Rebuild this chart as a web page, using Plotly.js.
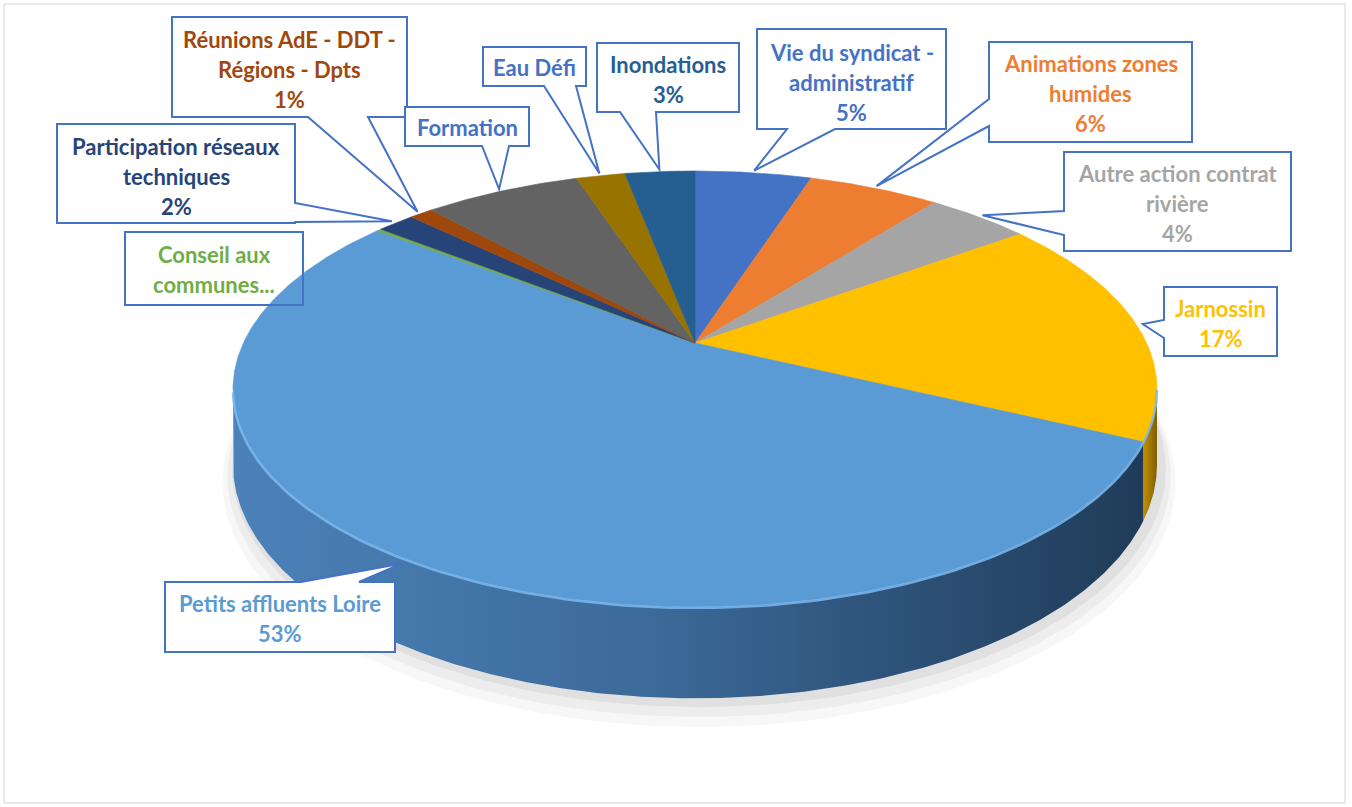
<!DOCTYPE html>
<html><head><meta charset="utf-8">
<script src="https://cdn.plot.ly/plotly-3.0.1.min.js"></script>
<style>html,body{margin:0;padding:0;background:#fff;}#chart{width:1352px;height:807px;}</style>
</head><body><div id="chart"></div>
<script>
// ---------- DATA ----------
const categories = ["Vie du syndicat - administratif","Animations zones humides","Autre action contrat rivière","Jarnossin","Petits affluents Loire","Conseil aux communes...","Participation réseaux techniques","Réunions AdE - DDT - Régions - Dpts","Formation","Eau Défi","Inondations"];
const values = [5.0, 5.6, 4.4, 17.1, 53.3, 0.2, 1.6, 1.0, 6.7, 2.1, 3.0];
const labelLines = [["Vie du syndicat -","administratif"],["Animations zones","humides"],["Autre action contrat","rivière"],["Jarnossin"],["Petits affluents Loire"],["Conseil aux","communes..."],["Participation réseaux","techniques"],["Réunions AdE - DDT -","Régions - Dpts"],["Formation"],["Eau Défi"],["Inondations"]];
const showPercent = [true,true,true,true,true,false,true,true,false,false,true];

// ---------- STYLES ----------
const sliceColors = ["#4472C4","#ED7D31","#A5A5A5","#FFC000","#5B9BD5","#70AD47","#264478","#9E480E","#636363","#997300","#255E91"];
const textColors  = ["#4472C4","#ED7D31","#A5A5A5","#FFC000","#5B9BD5","#70AD47","#264478","#9E480E","#4472C4","#4472C4","#255E91"];
const sideScales = [
  [[0,"#34589A"],[1,"#22396A"]],
  [[0,"#C0621F"],[1,"#8A4512"]],
  [[0,"#8A8A8A"],[1,"#5E5E5E"]],
  [[0,"#C29100"],[1,"#7E5E00"]],
  [[0,"#4C82B9"],[0.45,"#3C6A99"],[1,"#1F3A57"]],
  [[0,"#5A8C38"],[1,"#3C5E25"]],
  [[0,"#1E3660"],[1,"#142542"]],
  [[0,"#7E390B"],[1,"#552607"]],
  [[0,"#505050"],[1,"#363636"]],
  [[0,"#7A5C00"],[1,"#523E00"]],
  [[0,"#1E4B74"],[1,"#14324E"]]
];

// ---------- CALLOUT LAYOUT (positions of label boxes, pixels) ----------
const callouts = [
  {box:[757,29,946,129],  edge:"bottom", a:787, b:835, y0:52},
  {box:[989,42,1192,142], edge:"left",   a:99,  b:126, y0:63},
  {box:[1064,152,1291,251],edge:"left",  a:211, b:235, y0:173},
  {box:[1164,287,1277,356],edge:"left",  a:320, b:338, y0:308},
  {box:[165,582,395,652], edge:"top",    a:301, b:359, y0:603},
  {box:[125,232,303,305], edge:null,     a:0,   b:0,   y0:254, clear:true},
  {box:[57,124,295,223],  edge:"right",  a:203, b:222, y0:146},
  {box:[172,17,407,117],  edge:"bottom", a:308, b:368, y0:39},
  {box:[405,107,529,146], edge:"bottom", a:482, b:509, y0:127},
  {box:[483,47,586,86],   edge:"bottom", a:544, b:576, y0:67},
  {box:[597,43,739,112],  edge:"bottom", a:620, b:656, y0:64}
];

// ---------- GEOMETRY (perspective ellipse) ----------
const cx=695, cy=343, A=451.6, B=208.3, K=0.211, D=72;
function P(phiDeg, r, down){
  r = r===undefined?1:r; down = down||0;
  const p = phiDeg*Math.PI/180;
  const u = r*Math.sin(p), v = r*Math.cos(p);
  const s = 1 + K*v;
  return [cx + A*u/s, cy - B*v/s + down/s];
}
const total = values.reduce((s,v)=>s+v,0);
const starts=[], ends=[];
let acc=0;
values.forEach(v=>{ starts.push(acc/total*360); acc+=v; ends.push(acc/total*360); });

const traces=[];
// shadow
[[1.03,D+14,0.03],[1.02,D+9,0.04],[1.01,D+4,0.055]].forEach(([r,dn,al])=>{
  const xs=[],ys=[];
  for(let ph=0;ph<=360;ph+=2){const q=P(ph,r,dn);xs.push(q[0]+4);ys.push(q[1]);}
  traces.push({type:"scatter",mode:"lines",x:xs,y:ys,fill:"toself",fillcolor:"rgba(0,0,0,"+al+")",line:{width:0},hoverinfo:"skip",showlegend:false});
});
// sides
const phiL = Math.acos(-K)*180/Math.PI, phiR = 360-phiL;
values.forEach((v,i)=>{
  const a=Math.max(starts[i],phiL), b=Math.min(ends[i],phiR);
  if(b<=a) return;
  const xs=[],ys=[];
  const n=Math.max(2,Math.ceil((b-a)/0.5));
  for(let k=0;k<=n;k++){const q=P(a+(b-a)*k/n);xs.push(q[0]);ys.push(q[1]);}
  for(let k=n;k>=0;k--){const q=P(a+(b-a)*k/n,1,D);xs.push(q[0]);ys.push(q[1]);}
  xs.push(xs[0]);ys.push(ys[0]);
  const xmin=Math.min(...xs), xmax=Math.max(...xs);
  traces.push({type:"scatter",mode:"lines",x:xs,y:ys,fill:"toself",
    fillgradient:{type:"horizontal",colorscale:sideScales[i],start:i===4?cx-A*1.02:xmin,stop:i===4?cx+A*1.02:xmax},
    line:{width:0},hoverinfo:"skip",showlegend:false,name:categories[i]});
});
// top faces
values.forEach((v,i)=>{
  const a=starts[i], b=ends[i];
  const xs=[cx],ys=[cy];
  const n=Math.max(2,Math.ceil((b-a)/0.5));
  for(let k=0;k<=n;k++){const q=P(a+(b-a)*k/n);xs.push(q[0]);ys.push(q[1]);}
  xs.push(cx);ys.push(cy);
  traces.push({type:"scatter",mode:"lines",x:xs,y:ys,fill:"toself",fillcolor:sliceColors[i],
    line:{width:0.6,color:sliceColors[i]},hoverinfo:"skip",showlegend:false,name:categories[i]});
});
// rim highlight on front edge
{
  const xs=[],ys=[];
  for(let ph=phiL;ph<=phiR;ph+=1){const q=P(ph);xs.push(q[0]);ys.push(q[1]+1);}
  traces.push({type:"scatter",mode:"lines",x:xs,y:ys,line:{width:2.5,color:"rgba(125,185,238,0.85)"},hoverinfo:"skip",showlegend:false});
}

// ---------- CALLOUTS ----------
const shapes=[{type:"rect",xref:"x",yref:"y",x0:4,y0:4,x1:1345,y1:803,line:{color:"#D4D4D4",width:1},layer:"below"}];
const annotations=[];
callouts.forEach((c,i)=>{
  const [x0,y0,x1,y1]=c.box;
  const mid=(starts[i]+ends[i])/2;
  const t=P(mid,1.015);
  let path;
  const T=t[0].toFixed(1)+","+t[1].toFixed(1);
  if(c.edge==="bottom") path=`M${x0},${y0} L${x1},${y0} L${x1},${y1} L${c.b},${y1} L${T} L${c.a},${y1} L${x0},${y1} Z`;
  else if(c.edge==="top") path=`M${x0},${y0} L${c.a},${y0} L${T} L${c.b},${y0} L${x1},${y0} L${x1},${y1} L${x0},${y1} Z`;
  else if(c.edge==="left") path=`M${x0},${y0} L${x1},${y0} L${x1},${y1} L${x0},${y1} L${x0},${c.b} L${T} L${x0},${c.a} Z`;
  else if(c.edge==="right") path=`M${x0},${y0} L${x1},${y0} L${x1},${c.a} L${T} L${x1},${c.b} L${x1},${y1} L${x0},${y1} Z`;
  else path=`M${x0},${y0} L${x1},${y0} L${x1},${y1} L${x0},${y1} Z`;
  shapes.push({type:"path",xref:"x",yref:"y",path:path,fillcolor:c.clear?"rgba(255,255,255,0)":"#FFFFFF",line:{color:"#4472C4",width:2},layer:"above"});
  const lines=labelLines[i].slice();
  if(showPercent[i]) lines.push(Math.round(values[i]/total*100)+"%");
  lines.forEach((txt,j)=>{
    annotations.push({xref:"x",yref:"y",x:(x0+x1)/2,y:c.y0+30*j,text:txt,showarrow:false,xanchor:"center",yanchor:"middle",
      font:{family:"Lato, 'Open Sans', sans-serif",size:22,color:textColors[i],weight:700}});
  });
});

const layout={
  width:1352,height:807,autosize:false,
  margin:{l:0,r:0,t:0,b:0,pad:0},
  paper_bgcolor:"#FFFFFF",plot_bgcolor:"#FFFFFF",
  showlegend:false,
  xaxis:{range:[0,1352],visible:false,fixedrange:true,showgrid:false,zeroline:false},
  yaxis:{range:[807,0],visible:false,fixedrange:true,showgrid:false,zeroline:false},
  shapes:shapes,annotations:annotations
};
Plotly.newPlot("chart",traces,layout,{displayModeBar:false,staticPlot:true});
</script>
</body></html>
